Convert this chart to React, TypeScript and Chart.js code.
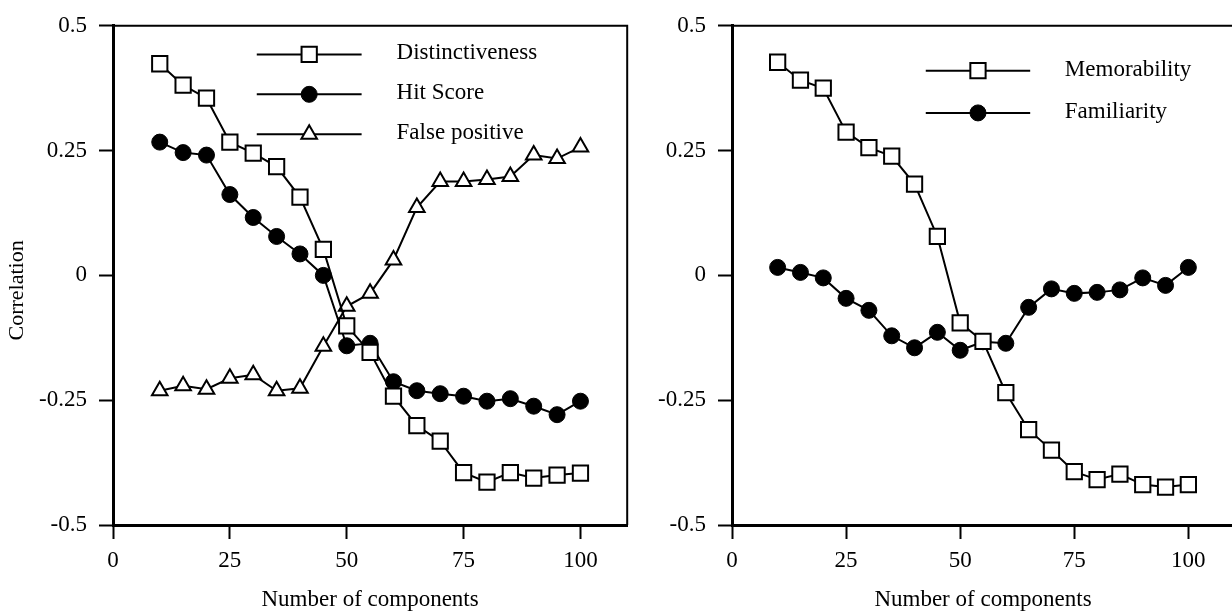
import React, { useEffect, useRef } from 'react';
import { Chart, registerables } from 'chart.js';

Chart.register(...registerables);

// ---------- data ----------
const components = [10, 15, 20, 25, 30, 35, 40, 45, 50, 55, 60, 65, 70, 75, 80, 85, 90, 95, 100];
const xTicks = [0, 25, 50, 75, 100];
const xTickLabels = ['0', '25', '50', '75', '100'];
const yTicks = [-0.5, -0.25, 0, 0.25, 0.5];
const yTickLabels = ['-0.5', '-0.25', '0', '0.25', '0.5'];

const distinctiveness = [0.424, 0.381, 0.355, 0.267, 0.245, 0.218, 0.157, 0.052, -0.101, -0.154, -0.242, -0.301, -0.332, -0.395, -0.414, -0.395, -0.406, -0.4, -0.396];
const hitScore = [0.267, 0.246, 0.241, 0.162, 0.116, 0.078, 0.043, 0.0, -0.141, -0.136, -0.213, -0.231, -0.237, -0.242, -0.252, -0.247, -0.262, -0.279, -0.252];
const falsePositive = [-0.231, -0.221, -0.228, -0.206, -0.199, -0.231, -0.226, -0.142, -0.062, -0.036, 0.031, 0.136, 0.188, 0.188, 0.192, 0.198, 0.241, 0.234, 0.257];
const memorability = [0.427, 0.391, 0.375, 0.287, 0.256, 0.239, 0.183, 0.078, -0.095, -0.132, -0.235, -0.309, -0.35, -0.393, -0.409, -0.398, -0.419, -0.424, -0.419];
const familiarity = [0.016, 0.006, -0.005, -0.046, -0.07, -0.121, -0.145, -0.114, -0.15, -0.133, -0.136, -0.064, -0.027, -0.036, -0.034, -0.029, -0.005, -0.02, 0.016];

const FONT = "'Liberation Serif', 'Times New Roman', Times, serif";
const FONT_SIZE = 23;

type MarkerKind = 'square' | 'circle' | 'triangle';

const markerStyles: Record<MarkerKind, any> = {
  square: { pointStyle: 'rect', pointRadius: 10.8, pointBackgroundColor: '#fff', pointBorderWidth: 2 },
  circle: { pointStyle: 'circle', pointRadius: 8, pointBackgroundColor: '#000', pointBorderWidth: 1 },
  triangle: { pointStyle: 'triangle', pointRadius: 9, pointBackgroundColor: '#fff', pointBorderWidth: 2 },
};

function series(label: string, values: number[], kind: MarkerKind) {
  const m = markerStyles[kind];
  return {
    label,
    data: components.map((x, i) => ({ x, y: values[i] })),
    borderColor: '#000',
    borderWidth: 2,
    tension: 0,
    fill: false,
    pointBorderColor: '#000',
    pointHoverRadius: m.pointRadius,
    ...m,
  };
}

// draw a marker in the same geometry chart.js uses
function drawMarker(ctx: CanvasRenderingContext2D, style: string, x: number, y: number, r: number, fillColor: string, bw: number) {
  ctx.save();
  ctx.beginPath();
  if (style === 'rect') {
    const s = Math.SQRT1_2 * r;
    ctx.rect(x - s, y - s, 2 * s, 2 * s);
  } else if (style === 'circle') {
    ctx.arc(x, y, r, 0, Math.PI * 2);
  } else if (style === 'triangle') {
    let rad = 0;
    ctx.moveTo(x + Math.sin(rad) * r, y - Math.cos(rad) * r);
    rad += (2 * Math.PI) / 3;
    ctx.lineTo(x + Math.sin(rad) * r, y - Math.cos(rad) * r);
    rad += (2 * Math.PI) / 3;
    ctx.lineTo(x + Math.sin(rad) * r, y - Math.cos(rad) * r);
    ctx.closePath();
  }
  ctx.fillStyle = fillColor;
  ctx.fill();
  ctx.lineWidth = bw;
  ctx.strokeStyle = '#000';
  ctx.stroke();
  ctx.restore();
}

const framePlugin = {
  id: 'frame',
  afterDraw(chart: any) {
    const { ctx, chartArea } = chart;
    const { left, top, right, bottom } = chartArea;
    ctx.save();
    ctx.strokeStyle = '#000';
    ctx.lineWidth = 2;
    ctx.beginPath();
    ctx.moveTo(left, top);
    ctx.lineTo(right, top);
    ctx.lineTo(right, bottom);
    ctx.stroke();
    ctx.restore();
  },
};

const lineLegendPlugin = {
  id: 'lineLegend',
  afterDraw(chart: any, _args: any, opts: any) {
    if (!opts || !opts.display) return;
    const { ctx, chartArea } = chart;
    const w = chartArea.right - chartArea.left;
    const h = chartArea.bottom - chartArea.top;
    const x0 = chartArea.left + opts.lineStart * w;
    const x1 = chartArea.left + opts.lineEnd * w;
    const xt = chartArea.left + opts.textStart * w;
    chart.data.datasets.forEach((ds: any, i: number) => {
      const y = chartArea.top + (opts.firstRow + i * opts.rowGap) * h;
      ctx.save();
      ctx.strokeStyle = '#000';
      ctx.lineWidth = 2;
      ctx.beginPath();
      ctx.moveTo(x0, y);
      ctx.lineTo(x1, y);
      ctx.stroke();
      ctx.restore();
      drawMarker(ctx, ds.pointStyle, (x0 + x1) / 2, y, ds.pointRadius, ds.pointBackgroundColor, ds.pointBorderWidth);
      ctx.save();
      ctx.fillStyle = '#000';
      ctx.font = `${FONT_SIZE}px ${FONT}`;
      ctx.textAlign = 'left';
      ctx.textBaseline = 'middle';
      ctx.fillText(ds.label, xt, y - 1);
      ctx.restore();
    });
  },
};

const yTitlePlugin = {
  id: 'yTitle',
  afterDraw(chart: any, _args: any, opts: any) {
    if (!opts || !opts.text) return;
    const { ctx, chartArea } = chart;
    const y = chartArea.top + opts.pos * (chartArea.bottom - chartArea.top);
    ctx.save();
    ctx.translate(opts.x, y);
    ctx.rotate(-Math.PI / 2);
    ctx.fillStyle = '#000';
    ctx.font = `${FONT_SIZE - 1}px ${FONT}`;
    ctx.textAlign = 'center';
    ctx.textBaseline = 'middle';
    ctx.fillText(opts.text, 0, 0);
    ctx.restore();
  },
};

interface PanelOpts {
  datasets: any[];
  padTop: number;
  padRight: number;
  yWidth: number;
  xHeight: number;
  yTitle?: string;
  legend: { lineStart: number; lineEnd: number; textStart: number; firstRow: number; rowGap: number };
}

function makeConfig(p: PanelOpts): any {
  const tickFont = { family: FONT, size: FONT_SIZE };
  return {
    type: 'line',
    data: { datasets: p.datasets },
    plugins: [framePlugin, lineLegendPlugin, yTitlePlugin],
    options: {
      responsive: false,
      animation: false,
      devicePixelRatio: 1,
      layout: { padding: { left: 0, top: p.padTop, right: p.padRight, bottom: 0 } },
      plugins: {
        legend: { display: false },
        tooltip: { enabled: false },
        title: { display: false },
        lineLegend: { display: true, ...p.legend },
        yTitle: p.yTitle ? { text: p.yTitle, x: 17.5, pos: 0.53 } : { text: '' },
      },
      scales: {
        x: {
          type: 'linear',
          min: 0,
          max: 110,
          afterBuildTicks: (s: any) => {
            s.ticks = xTicks.map((v) => ({ value: v }));
          },
          afterFit: (s: any) => {
            s.height = p.xHeight;
          },
          grid: { display: true, drawOnChartArea: false, drawTicks: true, tickLength: 14, tickWidth: 2, tickColor: '#000' },
          border: { display: true, width: 3, color: '#000' },
          ticks: {
            color: '#000',
            font: tickFont,
            padding: 8,
            maxRotation: 0,
            autoSkip: false,
            callback: (_v: any, i: number) => xTickLabels[i],
          },
          title: {
            display: true,
            text: 'Number of components',
            color: '#000',
            font: tickFont,
            padding: { top: 0, bottom: 2 },
          },
        },
        y: {
          type: 'linear',
          min: -0.5,
          max: 0.5,
          afterBuildTicks: (s: any) => {
            s.ticks = yTicks.map((v) => ({ value: v }));
          },
          afterFit: (s: any) => {
            s.width = p.yWidth;
          },
          grid: { display: true, drawOnChartArea: false, drawTicks: true, tickLength: 14, tickWidth: 2, tickColor: '#000' },
          border: { display: true, width: 3, color: '#000' },
          ticks: {
            color: '#000',
            font: tickFont,
            padding: 12,
            autoSkip: false,
            callback: (_v: any, i: number) => yTickLabels[i],
          },
          title: { display: false },
        },
      },
    },
  };
}

export default function App() {
  const leftRef = useRef<HTMLCanvasElement>(null);
  const rightRef = useRef<HTMLCanvasElement>(null);

  useEffect(() => {
    const left = new Chart(
      leftRef.current as HTMLCanvasElement,
      makeConfig({
        datasets: [
          series('Distinctiveness', distinctiveness, 'square'),
          series('Hit Score', hitScore, 'circle'),
          series('False positive', falsePositive, 'triangle'),
        ],
        padTop: 19,
        padRight: 12,
        yWidth: 113,
        xHeight: 91,
        yTitle: 'Correlation',
        legend: { lineStart: 0.2796, lineEnd: 0.4835, textStart: 0.5515, firstRow: 0.0573, rowGap: 0.08 },
      })
    );
    const right = new Chart(
      rightRef.current as HTMLCanvasElement,
      makeConfig({
        datasets: [
          series('Memorability', memorability, 'square'),
          series('Familiarity', familiarity, 'circle'),
        ],
        padTop: 15,
        padRight: 22,
        yWidth: 116,
        xHeight: 91,
        legend: { lineStart: 0.386, lineEnd: 0.594, textStart: 0.663, firstRow: 0.09, rowGap: 0.0845 },
      })
    );
    return () => {
      left.destroy();
      right.destroy();
    };
  }, []);

  return (
    <div
      style={{
        position: 'fixed',
        left: 0,
        top: 0,
        width: 1232,
        height: 616,
        overflow: 'hidden',
        background: '#fff',
      }}
    >
      <canvas
        ref={leftRef}
        width={640}
        height={616}
        style={{ position: 'absolute', left: 0, top: 0, width: 640, height: 616 }}
      />
      <canvas
        ref={rightRef}
        width={640}
        height={616}
        style={{ position: 'absolute', left: 616, top: 0, width: 640, height: 616 }}
      />
    </div>
  );
}
